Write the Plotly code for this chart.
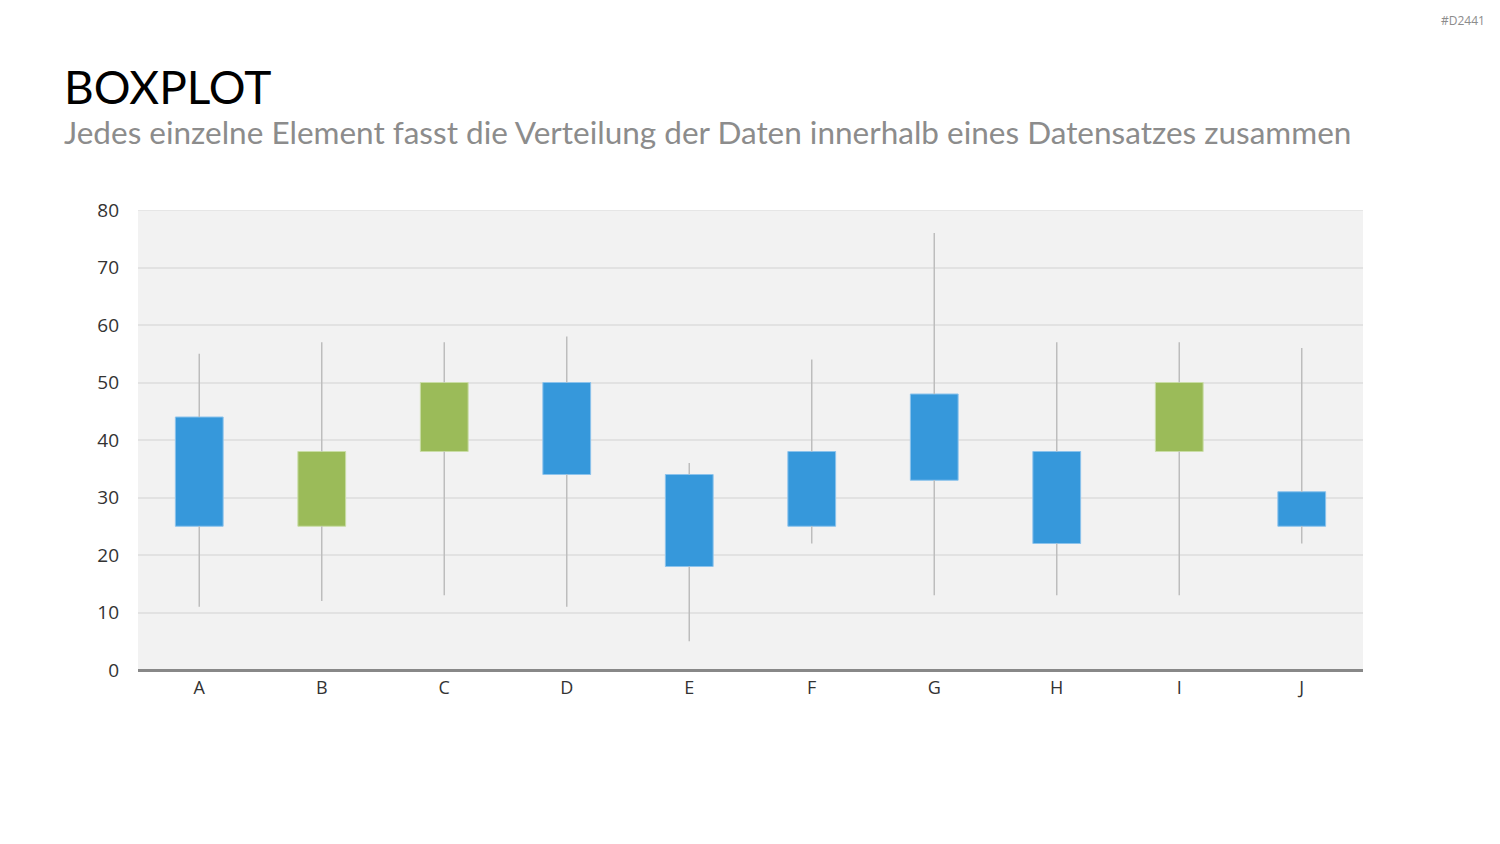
import plotly.graph_objects as go

categories = ["A", "B", "C", "D", "E", "F", "G", "H", "I", "J"]
whisker_low = [11, 12, 13, 11, 5, 22, 13, 13, 13, 22]
box_low = [25, 25, 38, 34, 18, 25, 33, 22, 38, 25]
box_high = [44, 38, 50, 50, 34, 38, 48, 38, 50, 31]
whisker_high = [55, 57, 57, 58, 36, 54, 76, 57, 57, 56]
highlight = [False, True, True, False, False, False, False, False, True, False]

BLUE = "#3698DB"
GREEN = "#9BBB59"
colors = [GREEN if h else BLUE for h in highlight]
borders = ["#C9DDA6" if h else "#8CC3EC" for h in highlight]

wx, wy = [], []
for c, wl, bl, bh, wh in zip(categories, whisker_low, box_low, box_high, whisker_high):
    wx += [c, c, None, c, c, None]
    wy += [wl, bl, None, bh, wh, None]

fig = go.Figure()
fig.add_trace(go.Scatter(x=wx, y=wy, mode="lines", line=dict(color="#BDBDBD", width=1.5),
                         hoverinfo="skip", showlegend=False, connectgaps=False))
fig.add_trace(go.Bar(x=categories, base=box_low,
                     y=[h - l for h, l in zip(box_high, box_low)],
                     marker=dict(color=colors, line=dict(color=borders, width=1)),
                     width=0.39, showlegend=False))

fig.update_layout(
    width=1500, height=844,
    margin=dict(l=138, r=137, t=210, b=174),
    paper_bgcolor="white", plot_bgcolor="#F2F2F2",
    font=dict(family="Open Sans, Noto Sans, sans-serif", color="#333333", size=18),
    xaxis=dict(type="category", categoryorder="array", categoryarray=categories,
               showgrid=False, zeroline=False, showline=False, ticks="",
               tickfont=dict(size=18, color="#333333"), ticklabelstandoff=5),
    yaxis=dict(range=[0, 80], dtick=10, showgrid=True, gridcolor="#E2E2E2", gridwidth=1.5,
               zeroline=True, zerolinecolor="#888888", zerolinewidth=2.5,
               showline=False, ticks="", tickfont=dict(size=19, color="#333333"),
               ticklabelstandoff=18),
    shapes=[dict(type="line", xref="paper", yref="y", x0=0, x1=1, y0=80, y1=80,
                 line=dict(color="#E2E2E2", width=1.5), layer="below")],
    annotations=[
        dict(text="BOXPLOT", xref="paper", yref="paper", x=-0.062, y=1.0,
             xanchor="left", yanchor="bottom", yshift=94, showarrow=False,
             font=dict(family="Lato, Open Sans, sans-serif", size=46, color="#000000")),
        dict(text="Jedes einzelne Element fasst die Verteilung der Daten innerhalb eines Datensatzes zusammen",
             xref="paper", yref="paper", x=-0.062, y=1.0, xanchor="left", yanchor="bottom",
             yshift=57, showarrow=False,
             font=dict(family="Lato, Open Sans, sans-serif", size=31.5, color="#8C8C8C")),
        dict(text="#D2441", xref="paper", yref="paper", x=1.0, y=1.0, xanchor="right",
             yanchor="middle", xshift=124, yshift=190, showarrow=False,
             font=dict(family="Open Sans, sans-serif", size=12, color="#8C8C8C")),
    ],
)

fig.write_html("out.html")
